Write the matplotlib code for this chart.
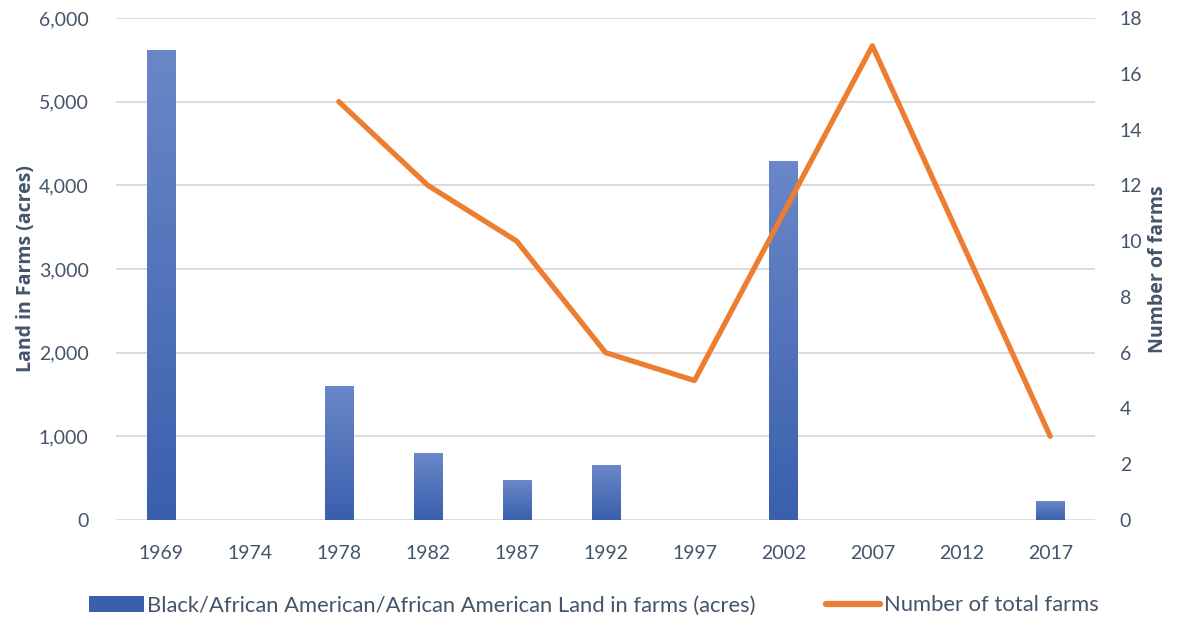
import numpy as np
import matplotlib
matplotlib.use("Agg")
import matplotlib.pyplot as plt
from matplotlib.ticker import FuncFormatter, MultipleLocator
from matplotlib.patches import Patch
from matplotlib.lines import Line2D

years = ["1969", "1974", "1978", "1982", "1987", "1992", "1997", "2002", "2007", "2012", "2017"]
land_acres = [5620, np.nan, 1600, 800, 478, 657, np.nan, 4290, np.nan, np.nan, 227]
num_farms = [np.nan, np.nan, 15, 12, 10, 6, 5, 11, 17, 10, 3]

plt.rcParams['font.family'] = ['Lato', 'DejaVu Sans']
text_color = "#44546a"
orange = "#ed7d31"
bar_top = "#6a87c8"
bar_bottom = "#3a5fad"

fig = plt.figure(figsize=(11.8, 6.19), dpi=100)
ax = fig.add_axes([0.0987, 0.16, 0.829, 0.811])
ax2 = ax.twinx()

x = np.arange(len(years))
bars = ax.bar(x, np.nan_to_num(land_acres), width=0.315, color=bar_bottom, zorder=2)

# gradient fill for each bar
cmap = matplotlib.colors.LinearSegmentedColormap.from_list("grad", [bar_bottom, bar_top])
grad = np.linspace(0, 1, 256).reshape(-1, 1)
for b in bars:
    if b.get_height() <= 0:
        continue
    bx, by = b.get_x(), b.get_y()
    w, h = b.get_width(), b.get_height()
    im = ax.imshow(grad, cmap=cmap, origin="lower", aspect="auto",
                   extent=[bx, bx + w, by, by + h], zorder=2.5)
    im.set_clip_path(b)
    b.set_alpha(0)

ax.set_xlim(-0.5, len(years) - 0.5)
ax.set_ylim(0, 6000)
ax.yaxis.set_major_locator(MultipleLocator(1000))
ax.yaxis.set_major_formatter(FuncFormatter(lambda v, p: f"{int(v):,}"))
ax.grid(axis="y", color="#d9d9d9", linewidth=1.3, zorder=0)
ax.set_axisbelow(True)
ax.set_xticks(x)
ax.set_xticklabels(years)

ax2.plot(x, num_farms, color=orange, linewidth=3.8, solid_capstyle="round", zorder=3)
ax2.set_ylim(0, 18)
ax2.yaxis.set_major_locator(MultipleLocator(2))

for a in (ax, ax2):
    for s in a.spines.values():
        s.set_visible(False)
    a.tick_params(length=0, labelsize=14, colors=text_color)
ax.tick_params(axis="y", pad=20)
ax.tick_params(axis="x", pad=18)
ax2.tick_params(axis="y", pad=18)

label_font = dict(fontsize=14, fontweight="bold", color=text_color, family=["Open Sans", "DejaVu Sans"])
ax.set_ylabel("Land in Farms (acres)", labelpad=2, **label_font)
ax2.set_ylabel("Number of farms", labelpad=4, **label_font)

handles = [Patch(facecolor=bar_bottom, edgecolor="none"),
           Line2D([0], [0], color=orange, linewidth=4.5, solid_capstyle="round")]
labels = ["Black/African American/African American Land in farms (acres)", "Number of total farms"]
fig.legend(handles, labels, loc="center", bbox_to_anchor=(0.503, 0.022), ncol=2, frameon=False,
           fontsize=15.8, labelcolor=text_color, handlelength=2.5, handleheight=0.75,
           handletextpad=0.15, columnspacing=3.2)

fig.savefig("out.png", dpi=100)
